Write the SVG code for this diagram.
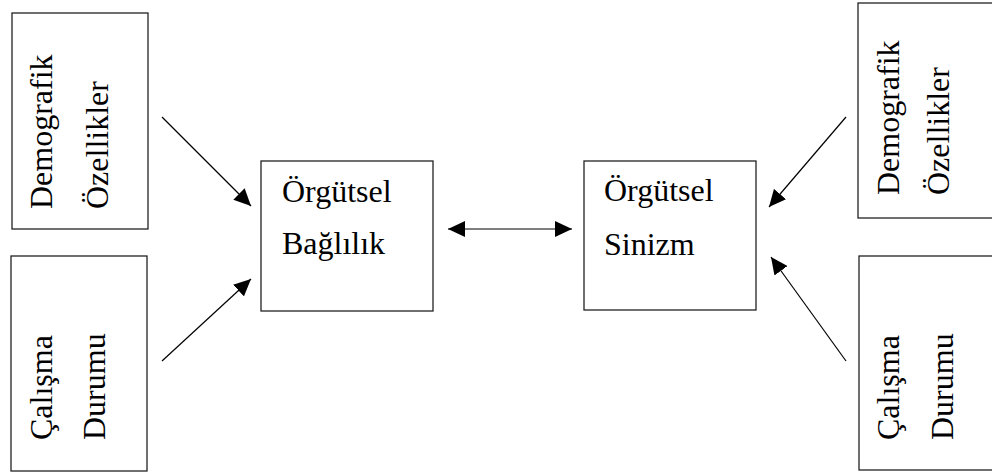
<svg xmlns="http://www.w3.org/2000/svg" width="992" height="472" viewBox="0 0 992 472">
<style>
.box{fill:#fff;stroke:#222;stroke-width:1.3}
.c{stroke:#000;stroke-width:1.2;fill:none}
</style>
<defs>
<marker id="ah" markerUnits="userSpaceOnUse" markerWidth="18" markerHeight="16" refX="17" refY="8" orient="auto-start-reverse" viewBox="0 0 18 16">
<path d="M0,0 L17,8 L0,16 z" fill="#000"/>
</marker>
</defs>
<rect width="992" height="472" fill="#fff"/>
<g font-family="'Liberation Serif', 'Times New Roman', 'DejaVu Serif', serif" font-size="32" fill="#000">
<g id="demo-left">
<rect class="box" x="12" y="13" width="136" height="216"/>
<text transform="translate(52,209) rotate(-90)">Demografik</text>
<text transform="translate(108,209) rotate(-90)">Özellikler</text>
</g>
<g id="calisma-left">
<rect class="box" x="11" y="256" width="136" height="215"/>
<text transform="translate(52,440) rotate(-90)">Çalışma</text>
<text transform="translate(105,440) rotate(-90)">Durumu</text>
</g>
<g id="baglilik">
<rect class="box" x="261" y="161" width="172" height="150"/>
<text x="282" y="202">Örgütsel</text>
<text x="282" y="254">Bağlılık</text>
</g>
<g id="sinizm">
<rect class="box" x="584" y="161" width="172" height="149"/>
<text x="604" y="201">Örgütsel</text>
<text x="604" y="255">Sinizm</text>
</g>
<g id="demo-right">
<rect class="box" x="858" y="3" width="140" height="215"/>
<text transform="translate(899,195) rotate(-90)">Demografik</text>
<text transform="translate(949,195) rotate(-90)">Özellikler</text>
</g>
<g id="calisma-right">
<rect class="box" x="859" y="256" width="140" height="214"/>
<text transform="translate(899,440) rotate(-90)">Çalışma</text>
<text transform="translate(953,440) rotate(-90)">Durumu</text>
</g>
</g>
<g id="connectors">
<line class="c" x1="162" y1="117" x2="251" y2="206" marker-end="url(#ah)"/>
<line class="c" x1="162" y1="361" x2="251" y2="279" marker-end="url(#ah)"/>
<line class="c" x1="448" y1="229" x2="572" y2="229" marker-start="url(#ah)" marker-end="url(#ah)"/>
<line class="c" x1="846" y1="117" x2="769" y2="207" marker-end="url(#ah)"/>
<line class="c" x1="846" y1="361" x2="771" y2="257" marker-end="url(#ah)"/>
</g>
</svg>
